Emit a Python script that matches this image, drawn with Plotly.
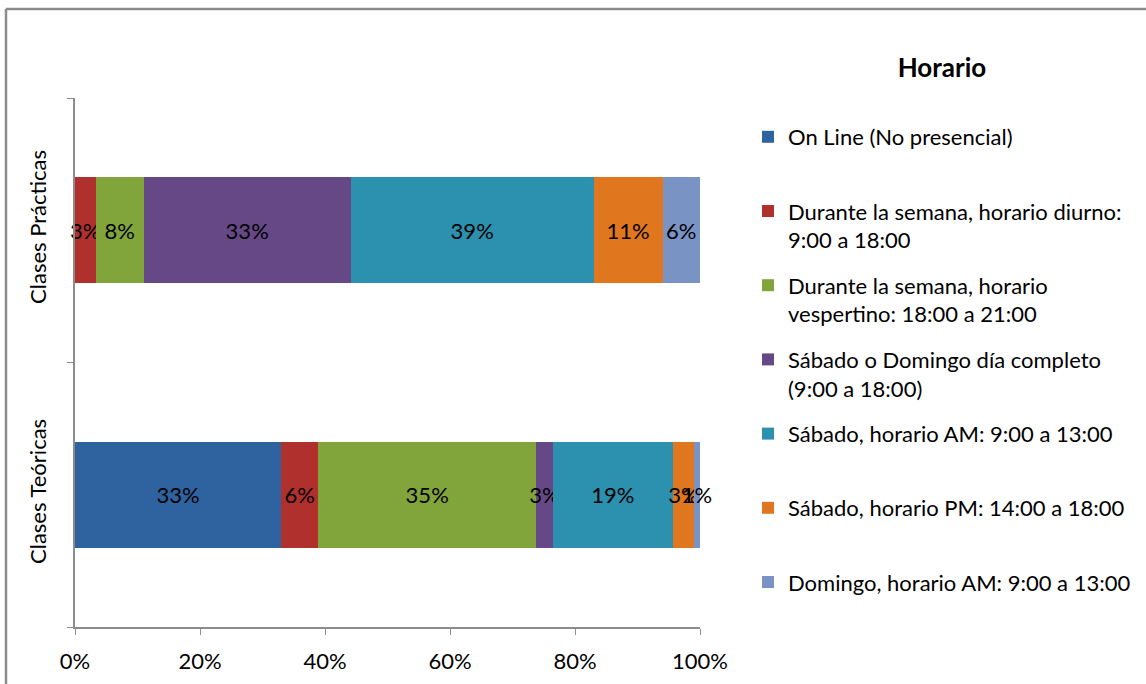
import plotly.graph_objects as go

# Categories (bottom to top) and schedule options
categorias = ["Clases Teóricas", "Clases Prácticas"]

series = [
    "On Line (No presencial)",
    "Durante la semana, horario diurno:<br>9:00 a 18:00",
    "Durante la semana, horario<br>vespertino: 18:00 a 21:00",
    "Sábado o Domingo día completo<br>(9:00 a 18:00)",
    "Sábado, horario AM: 9:00 a 13:00",
    "Sábado, horario PM: 14:00 a 18:00",
    "Domingo, horario AM: 9:00 a 13:00",
]

# Percentages per option: [Clases Teóricas, Clases Prácticas]
on_line = [33.0, 0.0]
semana_diurno = [5.9, 3.3]
semana_vespertino = [34.9, 7.7]
sab_dom_completo = [2.6, 33.1]
sabado_am = [19.3, 38.9]
sabado_pm = [3.3, 11.0]
domingo_am = [1.0, 6.0]

valores = [on_line, semana_diurno, semana_vespertino, sab_dom_completo,
           sabado_am, sabado_pm, domingo_am]

colores = ["#2E63A0", "#B0302E", "#82A53B", "#664886",
           "#2B91AE", "#E0771F", "#7893C4"]

FONT = "Lato"
FS = 22
W, H = 1146, 684
ML, MR, MT, MB = 75, 446, 98, 57
PW, PH = W - ML - MR, H - MT - MB


def px_x(px):
    return (px - ML) / PW


def px_y(py):
    return (H - MB - py) / PH


fig = go.Figure()
for i, (nombre, vals, color) in enumerate(zip(series, valores, colores)):
    # every legend entry takes two lines so the entries are evenly spaced
    etiqueta = nombre if "<br>" in nombre else nombre + "<br> "
    fig.add_trace(go.Bar(
        y=categorias,
        x=vals,
        orientation="h",
        name=etiqueta,
        legendgroup=f"g{i}",
        marker=dict(color=color, line=dict(width=0)),
        text=[f"{round(v)}%" if v > 0 else "" for v in vals],
        textposition="inside",
        insidetextanchor="middle",
        textangle=0,
        constraintext="none",
        textfont=dict(family=FONT, size=FS, color="black"),
        cliponaxis=False,
    ))

linea = "#8C8C8C"
fig.update_layout(
    width=W, height=H,
    margin=dict(l=ML, r=MR, t=MT, b=MB, autoexpand=False),
    barmode="stack",
    bargap=0.6,
    paper_bgcolor="white",
    plot_bgcolor="white",
    font=dict(family=FONT, size=FS, color="black"),
    xaxis=dict(
        range=[0, 100], dtick=20, ticksuffix="%",
        showgrid=False, zeroline=False,
        showline=True, linecolor=linea, linewidth=1.5,
        ticks="outside", ticklen=6, tickcolor=linea,
        ticklabelstandoff=8,
        tickfont=dict(family=FONT, size=FS),
    ),
    yaxis=dict(
        range=[-0.5, 1.5],
        showgrid=False, zeroline=False,
        showline=True, linecolor=linea, linewidth=1.5,
        ticks="outside", ticklen=6, tickcolor=linea, tickson="boundaries",
        tickangle=-90,
        ticklabelstandoff=18,
        tickfont=dict(family=FONT, size=FS),
    ),
    legend=dict(
        x=px_x(748), y=px_y(38), xanchor="left", yanchor="top",
        title=dict(
            text='<b><span style="font-size:26px">Horario</span></b><br> ',
            side="top center",
            font=dict(family=FONT, size=30)),
        traceorder="grouped",
        tracegroupgap=14,
        valign="top",
        maxheight=660,
        font=dict(family=FONT, size=FS),
        bgcolor="rgba(0,0,0,0)",
    ),
    shapes=[
        dict(type="line", xref="paper", yref="paper",
             x0=px_x(6), x1=px_x(W + 5), y0=px_y(9), y1=px_y(9),
             line=dict(color=linea, width=2.5)),
        dict(type="line", xref="paper", yref="paper",
             x0=px_x(6), x1=px_x(6), y0=px_y(9), y1=px_y(H + 5),
             line=dict(color=linea, width=2.5)),
    ],
)

fig.write_html("out.html")
